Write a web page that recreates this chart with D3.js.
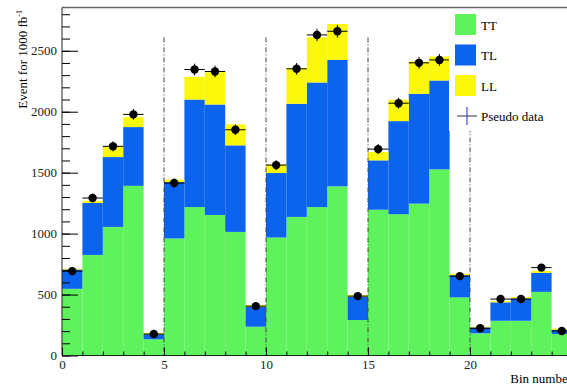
<!DOCTYPE html>
<html>
<head>
<meta charset="utf-8">
<script src="https://cdn.jsdelivr.net/npm/d3@7"></script>
<style>
body { margin:0; background:#fff; }
svg text { font-family: "Liberation Serif", "Times New Roman", serif !important; }
</style>
</head>
<body>
<svg id="chart" width="567" height="384"></svg>
<script>
// bin contents (events for 1000 fb^-1)
var bins = d3.range(25);
var TT = [547, 825, 1055, 1392, 133, 960, 1218, 1153, 1014, 236, 968, 1137, 1218, 1388, 291, 1196, 1159, 1246, 1527, 477, 182, 285, 285, 522, 176];
var TL = [159, 426, 573, 482, 41, 463, 882, 906, 710, 164, 529, 928, 1022, 1037, 190, 405, 764, 901, 729, 182, 49, 151, 183, 156, 35];
var LL = [6, 18, 88, 81, 10, 20, 186, 265, 172, 14, 69, 292, 371, 295, 14, 68, 175, 265, 197, 12, 6, 10, 11, 16, 10];
var pseudo = [692, 1292, 1716, 1978, 176, 1415, 2346, 2330, 1852, 405, 1562, 2352, 2630, 2660, 487, 1693, 2070, 2401, 2425, 651, 223, 463, 463, 721, 201];
var pseudoErr = [26, 36, 41, 44, 13, 38, 48, 48, 43, 20, 40, 48, 51, 52, 22, 41, 45, 49, 49, 26, 15, 22, 22, 27, 14];
var separators = [5, 10, 15, 20];
var yMajor = [0, 500, 1000, 1500, 2000, 2500];
var xMajor = [0, 5, 10, 15, 20];

var keys = ["TT", "TL", "LL"];
var colors = {TT: "#5ef25c", TL: "#0b63ee", LL: "#fcf80c"};

var svg = d3.select("#chart");

var x = d3.scaleLinear().domain([0, 25]).range([62, 572]);
var y = d3.scaleLinear().domain([0, 2855]).range([355.5, 7.5]);

var rows = bins.map(function(b) { return {bin: b, TT: TT[b], TL: TL[b], LL: LL[b]}; });
var stacked = d3.stack().keys(keys)(rows);

// stacked histogram
svg.append("g").selectAll("g")
  .data(stacked)
  .enter().append("g")
  .attr("fill", function(d) { return colors[d.key]; })
  .selectAll("rect")
  .data(function(d) { return d; })
  .enter().append("rect")
  .attr("x", function(d) { return x(d.data.bin); })
  .attr("width", function(d) { return x(d.data.bin + 1) - x(d.data.bin); })
  .attr("y", function(d) { return y(d[1]); })
  .attr("height", function(d) { return y(d[0]) - y(d[1]); });

// dash-dot separators
svg.append("g").selectAll("line")
  .data(separators)
  .enter().append("line")
  .attr("x1", function(d) { return x(d); })
  .attr("x2", function(d) { return x(d); })
  .attr("y1", y(2610))
  .attr("y2", y(0))
  .attr("stroke", "#444")
  .attr("stroke-width", 1)
  .attr("stroke-dasharray", "5,2,1,2");

// pseudo data
var pts = svg.append("g").selectAll("g")
  .data(bins)
  .enter().append("g");
pts.append("line")
  .attr("x1", function(b) { return x(b); })
  .attr("x2", function(b) { return x(b + 1); })
  .attr("y1", function(b) { return y(pseudo[b]); })
  .attr("y2", function(b) { return y(pseudo[b]); })
  .attr("stroke", "#000");
pts.append("line")
  .attr("x1", function(b) { return x(b + 0.5); })
  .attr("x2", function(b) { return x(b + 0.5); })
  .attr("y1", function(b) { return y(pseudo[b] - pseudoErr[b]); })
  .attr("y2", function(b) { return y(pseudo[b] + pseudoErr[b]); })
  .attr("stroke", "#000");
pts.append("circle")
  .attr("cx", function(b) { return x(b + 0.5); })
  .attr("cy", function(b) { return y(pseudo[b]); })
  .attr("r", 4.2)
  .attr("fill", "#000");

// legend (white box hides the last separator)
var leg = svg.append("g");
leg.append("rect").attr("x", 449).attr("y", 9).attr("width", 118).attr("height", 122).attr("fill", "#fff");
keys.forEach(function(k, i) {
  leg.append("rect")
    .attr("x", 455).attr("y", 14 + i * 30.5)
    .attr("width", 21).attr("height", 21)
    .attr("fill", colors[k]);
  leg.append("text")
    .attr("x", 481).attr("y", 25 + i * 30.5)
    .attr("dy", "0.35em")
    .attr("font-size", 13)
    .text(k);
});
leg.append("line").attr("x1", 457).attr("x2", 477).attr("y1", 116).attr("y2", 116).attr("stroke", "#333");
leg.append("line").attr("x1", 467).attr("x2", 467).attr("y1", 107).attr("y2", 125).attr("stroke", "#1a2bd0");
leg.append("text")
  .attr("x", 481).attr("y", 116)
  .attr("dy", "0.35em")
  .attr("font-size", 13)
  .text("Pseudo data");

// frame top
svg.append("line")
  .attr("x1", 62).attr("x2", 567)
  .attr("y1", 7.5).attr("y2", 7.5)
  .attr("stroke", "#666").attr("stroke-width", 1.5);

// y axis
svg.append("g")
  .attr("transform", "translate(62,0)")
  .call(d3.axisLeft(y).tickValues(d3.range(0, 2855, 100)).tickSize(-8).tickFormat(""))
  .call(function(g) { g.select(".domain").remove(); });
var yAx = svg.append("g")
  .attr("transform", "translate(62,0)")
  .call(d3.axisLeft(y).tickValues(yMajor).tickSize(-16).tickPadding(5).tickFormat(d3.format("d")));
yAx.select(".domain").attr("d", "M0," + y(0) + "V7.5").attr("stroke", "#222");
yAx.selectAll("text").attr("font-size", 13).attr("fill", "#222");

// x axis
svg.append("g")
  .attr("transform", "translate(0," + y(0) + ")")
  .call(d3.axisBottom(x).tickValues(d3.range(0, 25)).tickSize(-4).tickFormat(""))
  .call(function(g) { g.select(".domain").remove(); });
var xAx = svg.append("g")
  .attr("transform", "translate(0," + y(0) + ")")
  .call(d3.axisBottom(x).tickValues(xMajor).tickSize(-8).tickPadding(6).tickFormat(d3.format("d")));
xAx.select(".domain").attr("d", "M62,0H567").attr("stroke", "#222");
xAx.selectAll("text").attr("font-size", 13).attr("fill", "#222").attr("dy", "0.6em");

// axis titles (the reference crops "Bin number" at the right edge)
svg.append("text")
  .attr("x", 572).attr("y", 383)
  .attr("text-anchor", "end")
  .attr("font-size", 13)
  .text("Bin number");

var yt = svg.append("text")
  .attr("transform", "translate(27,10) rotate(-90)")
  .attr("text-anchor", "end")
  .attr("font-size", 13);
yt.append("tspan").text("Event for 1000 fb");
yt.append("tspan").attr("dy", -5).attr("font-size", 8).text("-1");
</script>
</body>
</html>
